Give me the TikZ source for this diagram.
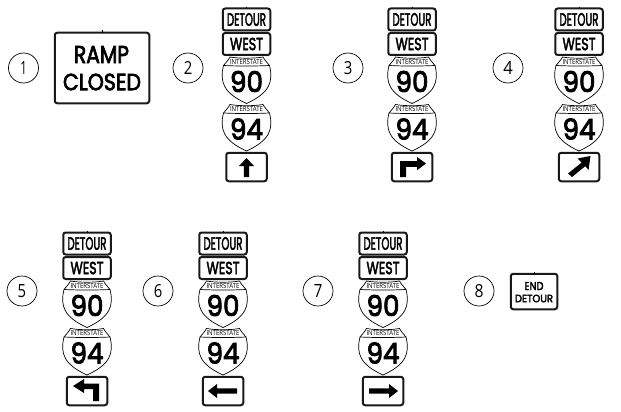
\documentclass[tikz,border=0pt]{standalone}
\usepackage{graphicx}
\usepackage{fontspec}
\setmainfont[FakeBold=3.2]{Poppins}
\newfontfamily\numfont{Open Sans}
\newfontfamily\smallfont{Open Sans}
\newcommand{\fitsign}[3]{\resizebox{#1pt}{#2pt}{#3}}
\newcommand{\fitnum}[3]{\resizebox{#1pt}{#2pt}{\numfont #3}}
\tikzset{
  signbox/.style={draw=black!90,line width=2pt,rounded corners=2.5pt,fill=white,inner sep=0pt},
  signtext/.style={inner sep=0pt,text=black},
  numcircle/.style={circle,draw=black,line width=0.7pt,minimum size=30pt,inner sep=0pt,fill=white},
  shieldline/.style={draw=black,line width=0.7pt,fill=white},
  arrowfill/.style={fill=black,draw=none},
  tick/.style={draw=black,line width=1pt}
}
% arrows in coordinates local to the centre of the box
\newcommand{\arrUp}{\fill[arrowfill] (0,-9)--(7.5,-1)--(2.7,-1)--(2.7,10)--(-2.7,10)--(-2.7,-1)--(-7.5,-1)--cycle;}
\newcommand{\arrRightTurn}{\fill[arrowfill] (14,-3.5)--(5,-10)--(5,-5.8)--(-12,-5.8)--(-12,10)--(-6,10)--(-6,-0.2)--(5,-0.2)--(5,3.2)--cycle;}
\newcommand{\arrDiag}{\fill[arrowfill] (11.5,-11)--(-1.5,-8.5)--(2.6,-4.4)--(-11,6.5)--(-7,10)--(6.3,-0.9)--(9.5,3)--cycle;}
\newcommand{\arrLeftTurn}{\fill[arrowfill] (-14,-5)--(-3,-12)--(-3,-7.5)--(12,-7.5)--(12,10)--(6,10)--(6,-2)--(-3,-2)--(-3,2)--cycle;}
\newcommand{\arrLeft}{\fill[arrowfill] (-15,0)--(-6,-7)--(-6,-2.7)--(14,-2.7)--(14,2.7)--(-6,2.7)--(-6,7)--cycle;}
\newcommand{\arrRight}{\fill[arrowfill] (15,0)--(6,-7)--(6,-2.7)--(-14,-2.7)--(-14,2.7)--(6,2.7)--(6,7)--cycle;}
% shield at centre x #1, top y #2, number #3
\newcommand{\shieldat}[4]{%
  \begin{scope}[shift={(#1,#2)}]
    \path[shieldline] (-16.5,1) .. controls (-8,2.6) and (8,2.6) .. (16.5,1)
       .. controls (18,4) and (21,7) .. (23,9.5)
       .. controls (27,26) and (23,37) .. (0,47.5)
       .. controls (-23,37) and (-27,26) .. (-23,9.5)
       .. controls (-21,7) and (-18,4) .. (-16.5,1) -- cycle;
    \draw[black,line width=0.7pt] (-23,9.5) .. controls (-8,10.2) and (8,10.2) .. (23,9.5);
    \node[signtext] (#4i) at (0,5.8) {\resizebox{33pt}{5pt}{\smallfont INTERSTATE}};
    \node[signtext] (#4n) at (0,25.5) {\fitsign{33}{21}{#3}};
  \end{scope}}
% stack at centre x #1, top y #2, name #3, arrow #4
\newcommand{\signstack}[4]{%
  \node[signbox,minimum width=47.5pt,minimum height=22pt] (#3d) at (#1,#2+11.5) {\fitsign{39}{12.5}{DETOUR}};
  \draw[tick] (#1,#2-1.2)--(#1,#2+0.5);
  \node[signbox,minimum width=47.5pt,minimum height=22pt] (#3w) at (#1,#2+36) {\fitsign{33}{12.3}{WEST}};
  \shieldat{#1}{#2+48}{90}{#3a}
  \shieldat{#1}{#2+95.5}{94}{#3b}
  \node[signbox,minimum width=40.5pt,minimum height=28.5pt] (#3c) at (#1,#2+159) {};
  \begin{scope}[shift={(#1,#2+159)}] #4 \end{scope}}
\begin{document}
\begin{tikzpicture}[x=1pt,y=-1pt]
\useasboundingbox (0,0) rectangle (621,412);
\node[numcircle] (c1) at (23.5,68) {\fitnum{6.5}{13}{1}};
\node[numcircle] (c2) at (188,68) {\fitnum{8.5}{13}{2}};
\node[numcircle] (c3) at (348,68) {\fitnum{8.5}{13}{3}};
\node[numcircle] (c4) at (508,68) {\fitnum{9.5}{13}{4}};
\node[numcircle] (c5) at (22,291) {\fitnum{8.5}{13}{5}};
\node[numcircle] (c6) at (158,291) {\fitnum{8.5}{13}{6}};
\node[numcircle] (c7) at (318,291) {\fitnum{8.5}{13}{7}};
\node[numcircle] (c8) at (479,291) {\fitnum{9}{13}{8}};
\node[signbox,minimum width=94.5pt,minimum height=70.5pt] (ramp) at (102,68) {};
\draw[tick] (102,30.5)--(102,33);
\node[signtext] (ramptxt) at (101.5,54.5) {\fitsign{55}{17}{RAMP}};
\node[signtext] (closedtxt) at (102,82) {\fitsign{78}{16.5}{CLOSED}};
\signstack{246.5}{8}{two}{\arrUp}
\signstack{412}{8}{three}{\arrRightTurn}
\signstack{579}{8}{four}{\arrDiag}
\signstack{87}{232}{five}{\arrLeftTurn}
\signstack{223}{232}{six}{\arrLeft}
\signstack{383}{232}{seven}{\arrRight}
\node[signbox,minimum width=46.5pt,minimum height=35.5pt] (endb) at (534,291.5) {};
\draw[tick] (534,272)--(534,274.5);
\node[signtext] (endt) at (534,286) {\fitsign{19}{8}{END}};
\node[signtext] (dett) at (534,298.5) {\fitsign{38}{7.5}{DETOUR}};
\end{tikzpicture}
\end{document}
